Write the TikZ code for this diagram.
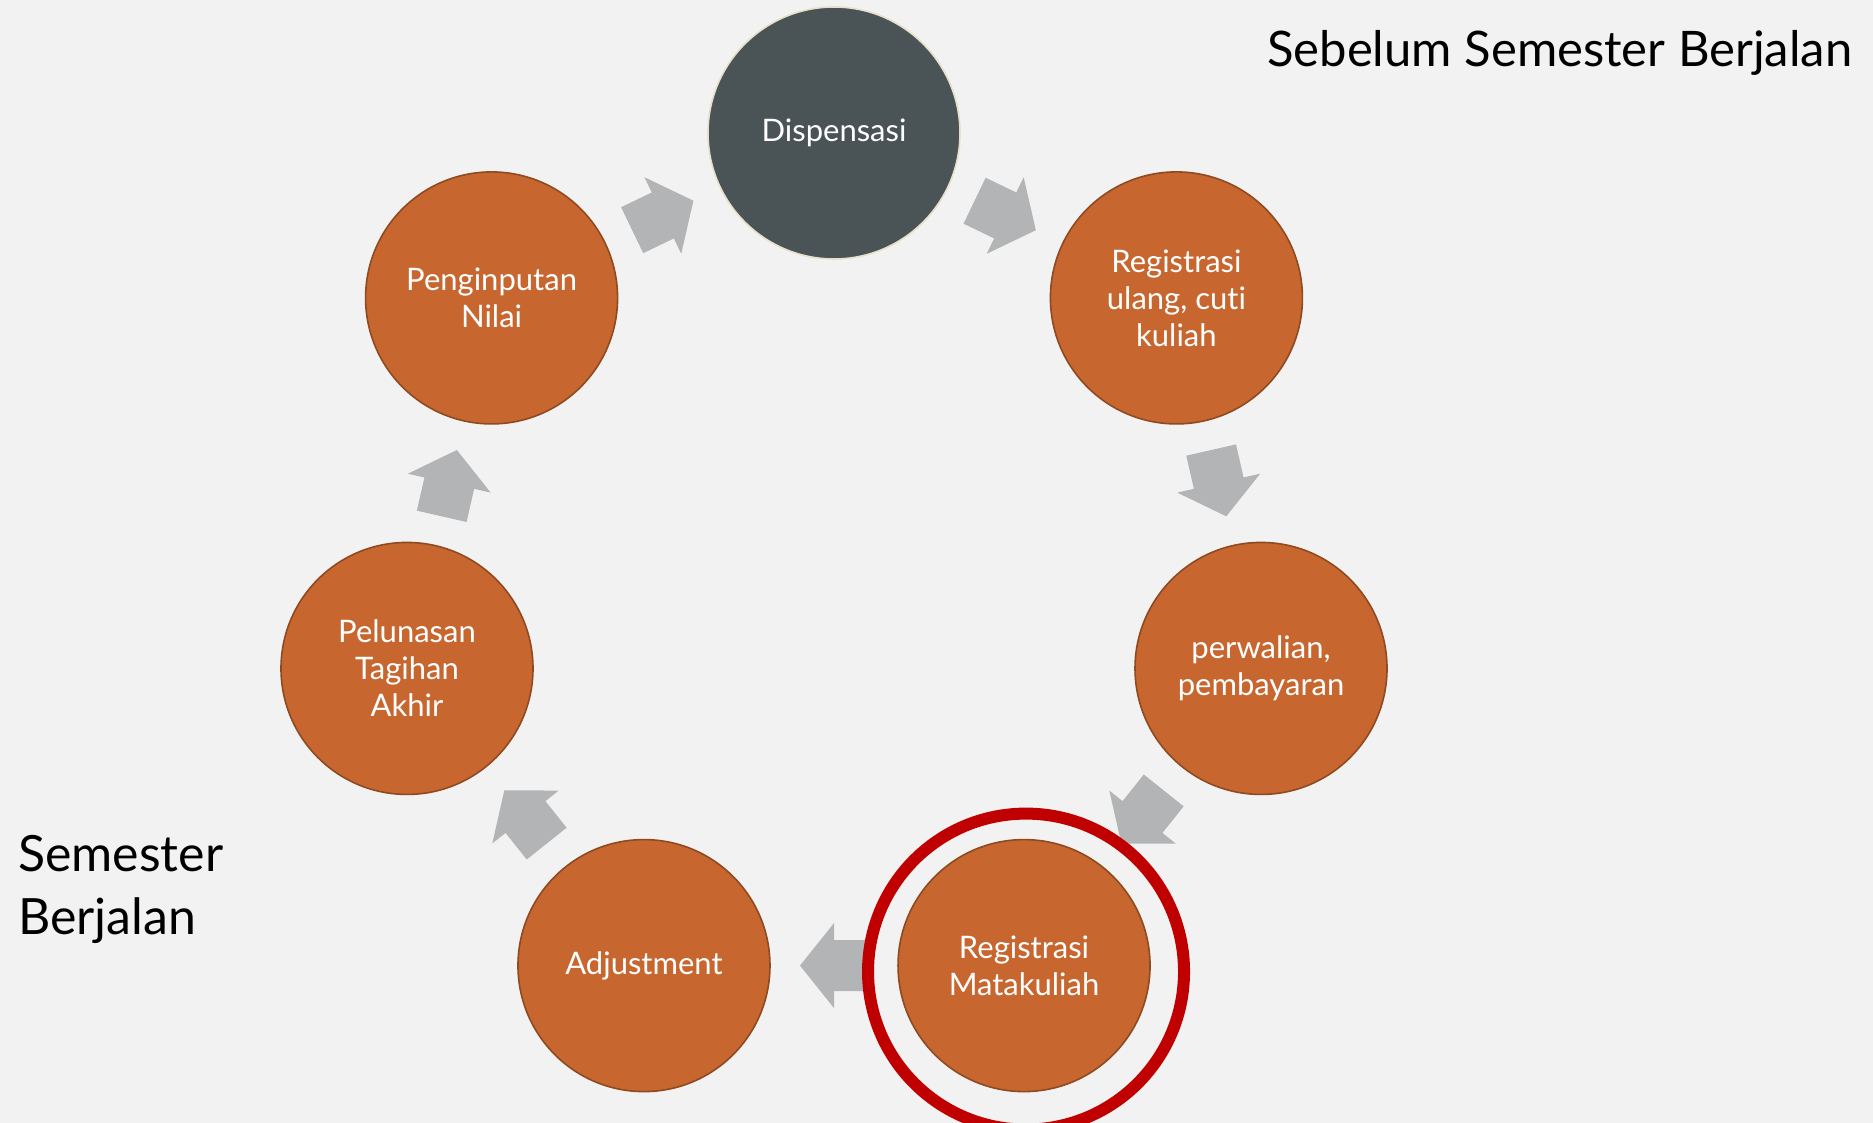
\documentclass[tikz,border=0pt]{standalone}
\usepackage{fontspec}
\setmainfont{Lato}[Ligatures={NoCommon}]
\usetikzlibrary{calc}
\definecolor{bg}{HTML}{F2F2F2}
\definecolor{orangefill}{HTML}{C8662F}
\definecolor{orangeline}{HTML}{8E4A20}
\definecolor{darkfill}{HTML}{4A5355}
\definecolor{darkline}{HTML}{E6E0C8}
\definecolor{arrowgrey}{HTML}{B3B4B6}
\definecolor{ringred}{HTML}{C00000}
\tikzset{
  stepcircle/.style={circle, minimum size=252pt, inner sep=0pt, line width=1.6pt,
    draw=orangeline, fill=orangefill, text=white, align=center,
    font=\fontsize{31pt}{37pt}\selectfont},
  darkcircle/.style={stepcircle, draw=darkline, fill=darkfill},
  garrow/.pic={\fill[arrowgrey] (-34pt,-25.5pt) -- (0pt,-25.5pt) -- (0pt,-42.5pt) -- (34pt,0pt)
     -- (0pt,42.5pt) -- (0pt,25.5pt) -- (-34pt,25.5pt) -- cycle;},
  bigtext/.style={inner sep=0pt, text=black, align=left}
}
\begin{document}
\begin{tikzpicture}[x=1pt,y=1pt]
\fill[bg] (0,0) rectangle (1873,1123);
\useasboundingbox (0,0) rectangle (1873,1123);
\coordinate (O) at (834,552);
\node[darkcircle] (c0) at ($(O)+(90:438pt)$) {Dispensasi};
\node[stepcircle] (c1) at ($(O)+(38.571:438pt)$) {Registrasi\\ulang, cuti\\kuliah};
\node[stepcircle] (c2) at ($(O)+(-12.857:438pt)$) {perwalian,\\pembayaran};
\node[stepcircle] (c3) at ($(O)+(-64.286:438pt)$) {Registrasi\\Matakuliah};
\node[stepcircle] (c4) at ($(O)+(-115.714:438pt)$) {Adjustment};
\node[stepcircle] (c5) at ($(O)+(-167.143:438pt)$) {Pelunasan\\Tagihan\\Akhir};
\node[stepcircle] (c6) at ($(O)+(141.429:438pt)$) {Penginputan\\Nilai};
\pic[rotate=-25.714] at ($(c0)!0.5!(c1)$) {garrow};
\pic[rotate=-77.143] at ($(c1)!0.5!(c2)$) {garrow};
\pic[rotate=-128.571] at ($(c2)!0.5!(c3)$) {garrow};
\pic[rotate=180] at ($(c3)!0.5!(c4)$) {garrow};
\pic[rotate=128.571] at ($(c4)!0.5!(c5)$) {garrow};
\pic[rotate=77.143] at ($(c5)!0.5!(c6)$) {garrow};
\pic[rotate=25.714] at ($(c6)!0.5!(c0)$) {garrow};
\draw[ringred, line width=12pt] ([xshift=2pt,yshift=-6pt]c3.center) circle (158pt);
\node[bigtext, anchor=base west, font=\fontsize{49pt}{58pt}\selectfont] (t1) at (1267,1056) {Sebelum Semester Berjalan};
\node[bigtext, anchor=base west, font=\fontsize{50pt}{63pt}\selectfont] (t2) at (18,251) {Semester};
\node[bigtext, anchor=base west, font=\fontsize{50pt}{63pt}\selectfont] (t3) at (18,188) {Berjalan};
\end{tikzpicture}
\end{document}
